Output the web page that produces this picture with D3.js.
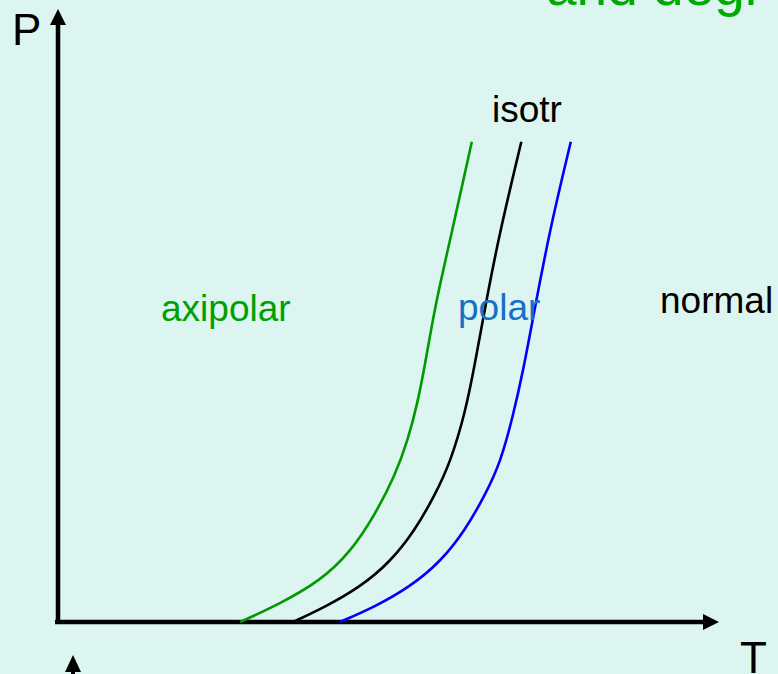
<!DOCTYPE html>
<html>
<head>
<meta charset="utf-8">
<script src="https://cdn.jsdelivr.net/npm/d3@7"></script>
<style>
html,body{margin:0;padding:0;background:#ddf5f0;overflow:hidden;}
svg{display:block;}
text{font-family:"Liberation Sans",Arial,sans-serif;}
</style>
</head>
<body>
<svg id="chart" width="778" height="674"></svg>
<script>
// Curve data (T, P) in arbitrary units
const axipolarT = [27.6, 33.6, 39.7, 44.2, 48.0, 51.1, 53.0, 54.4, 55.6, 57.1, 59.4, 62.7];
const axipolarP = [0, 3.0, 6.8, 11.4, 17.7, 24.3, 30.1, 35.9, 42.5, 52.2, 63.2, 79.5];
const isotrT = [35.6, 40.5, 45.8, 50.3, 54.1, 57.1, 59.4, 61.7, 63.2, 65.0, 67.0, 70.2];
const isotrP = [0, 2.5, 5.8, 9.9, 15.2, 21.0, 26.3, 34.6, 42.9, 53.8, 64.9, 79.5];
const polarT = [42.7, 48.0, 53.3, 57.9, 61.7, 64.7, 67.0, 68.9, 70.5, 72.0, 74.5, 77.7];
const polarP = [0, 2.5, 5.8, 9.9, 15.2, 21.0, 26.3, 33.9, 41.7, 50.5, 64.9, 79.5];
const regionLabels = ["axipolar", "polar", "normal", "isotr"];
const axisLabels = ["P", "T"];
const titleText = "and degr";

const svg = d3.select("#chart");
const x = d3.scaleLinear().domain([0, 100]).range([58, 718]);
const y = d3.scaleLinear().domain([0, 100]).range([622, 18]);

// Title fragment (cut off at top)
svg.append("text").attr("x", 546).attr("y", 5)
  .attr("font-size", 55).attr("fill", "#00aa00").text(titleText);

// Axes
const g = svg.append("g");
g.append("line").attr("x1", x(0) - 3).attr("x2", x(0) + 645).attr("y1", y(0)).attr("y2", y(0))
  .attr("stroke", "#000").attr("stroke-width", 4.5);
g.append("line").attr("x1", x(0)).attr("x2", x(0)).attr("y1", y(0) + 2).attr("y2", 24)
  .attr("stroke", "#000").attr("stroke-width", 4.5);
// arrowheads
const xe = x(0) + 661, ye = y(0);
g.append("path").attr("d", `M${xe},${ye} L${xe-16},${ye-8} L${xe-16},${ye+8} Z`).attr("fill", "#000");
const ax = x(0), ay = 9;
g.append("path").attr("d", `M${ax},${ay} L${ax-8},${ay+16} L${ax+8},${ay+16} Z`).attr("fill", "#000");
// stray arrow at bottom-left
g.append("path").attr("d", `M73,655 L65,672 L81,672 Z`).attr("fill", "#000");
g.append("line").attr("x1", 73).attr("x2", 73).attr("y1", 670).attr("y2", 680).attr("stroke", "#000").attr("stroke-width", 4);

// Axis labels
svg.append("text").attr("x", 12).attr("y", 45).attr("font-size", 44).attr("fill", "#000").text(axisLabels[0]);
svg.append("text").attr("x", 740).attr("y", 673).attr("font-size", 44).attr("fill", "#000").text(axisLabels[1]);

// Curves
const line = d3.line().x(d => x(d[0])).y(d => y(d[1])).curve(d3.curveBasis);
const series = [
  {T: axipolarT, P: axipolarP, color: "#009900"},
  {T: isotrT, P: isotrP, color: "#000000"},
  {T: polarT, P: polarP, color: "#0000ff"}
];
series.forEach(s => {
  svg.append("path").datum(s.T.map((t, i) => [t, s.P[i]]))
    .attr("d", line).attr("fill", "none").attr("stroke", s.color).attr("stroke-width", 2.6);
});

// Region labels
svg.append("text").attr("x", 161).attr("y", 321).attr("font-size", 37).attr("fill", "#00a000").text(regionLabels[0]);
svg.append("text").attr("x", 458).attr("y", 320).attr("font-size", 37).attr("fill", "#1570c8").text(regionLabels[1]);
svg.append("text").attr("x", 660).attr("y", 313).attr("font-size", 37).attr("fill", "#000").text(regionLabels[2]);
svg.append("text").attr("x", 492).attr("y", 122).attr("font-size", 37).attr("fill", "#000").text(regionLabels[3]);
</script>
</body>
</html>
